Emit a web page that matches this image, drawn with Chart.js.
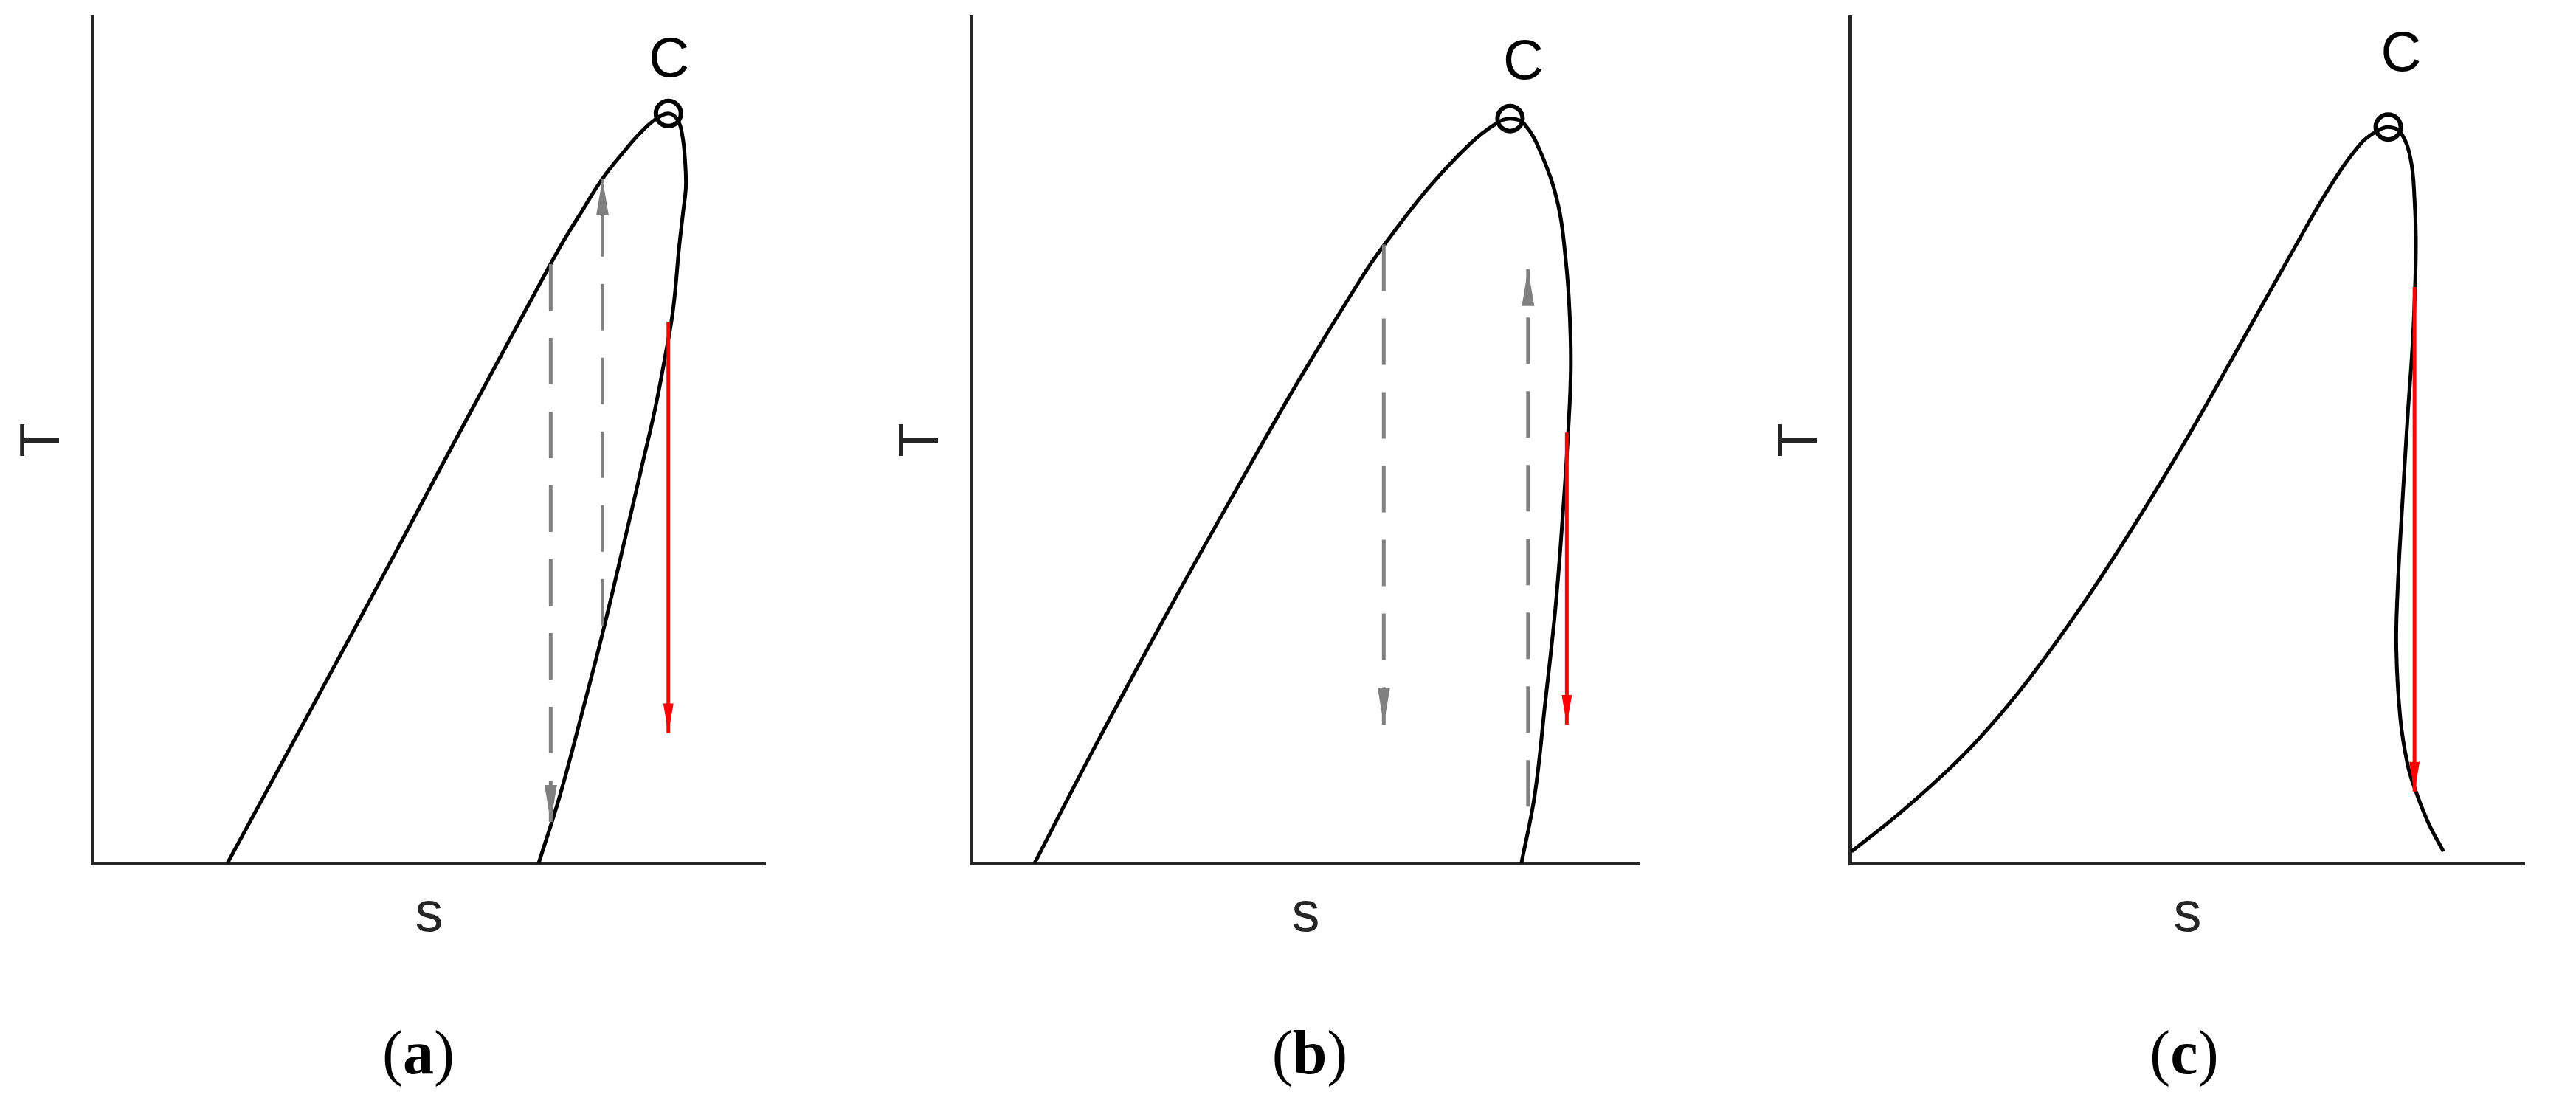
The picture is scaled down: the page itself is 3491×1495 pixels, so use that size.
<!DOCTYPE html>
<html>
<head>
<meta charset="utf-8">
<title>T-s diagrams</title>
<script src="https://cdn.jsdelivr.net/npm/chart.js@4.4.1/dist/chart.umd.min.js"></script>
<style>
  html, body { margin: 0; padding: 0; background: #fff; }
  body { position: relative; width: 3491px; height: 1495px; overflow: hidden; }
  canvas { position: absolute; top: 0; }
  .cap {
    position: absolute; top: 1377px; width: 200px; text-align: center;
    font: 84px/100px "Liberation Serif", "Times New Roman", serif; color: #000;
  }
</style>
</head>
<body>
<canvas id="ca" width="1190" height="1320" style="left:0px"></canvas>
<canvas id="cb" width="1190" height="1320" style="left:1191px"></canvas>
<canvas id="cc" width="1109" height="1320" style="left:2382px"></canvas>
<div class="cap" style="left:467px">(<b>a</b>)</div>
<div class="cap" style="left:1675px">(<b>b</b>)</div>
<div class="cap" style="left:2860px">(<b>c</b>)</div>
<script>
// saturation dome (s and T in % of the axis)
const domeA_s = [20.0, 31.7, 44.8, 51.7, 60.1, 64.8, 69.4, 72.7, 75.8, 79.1, 81.3, 83.5, 85.6,
                 87.0, 87.7, 88.1, 88.2, 87.8, 87.2, 86.3, 85.1, 83.6, 81.8, 79.4, 76.0, 73.0, 69.5, 66.3];
const domeA_T = [0, 17.1, 36.4, 46.7, 59.1, 66.0, 72.7, 77.0, 80.9, 84.2, 86.2, 87.8, 88.6,
                 87.8, 85.9, 82.8, 79.9, 77.0, 72.8, 65.4, 59.8, 53.6, 47.4, 39.2, 27.8, 18.5, 8.1, 0];

const domeB_s = [9.4, 18.8, 29.7, 40.5, 49.0, 58.3, 61.8, 68.4, 74.6, 78.5, 80.6, 82.7, 85.4, 87.8, 88.9, 89.5, 89.7, 89.3, 88.5, 87.4, 85.8, 84.3, 82.3];
const domeB_T = [0, 14.3, 30.2, 45.4, 57.1, 69.1, 73.1, 79.8, 85.0, 87.4, 88.0, 87.4, 83.6, 77.8, 71.6, 65.4, 58.5, 50.9, 41.2, 30.2, 18.5, 8.1, 0];

const domeC_s = [0.15, 7.4, 15.1, 20.5, 26.6, 34.3, 42.0, 49.7, 57.4, 65.1, 71.2, 75.8, 78.1, 79.8,
                 81.6, 83.1, 83.7, 83.9, 83.5, 82.7, 81.8, 81.2, 81.0, 81.6, 82.7, 83.9, 85.8, 88.0];
const domeC_T = [1.4, 6.0, 11.5, 16.0, 21.9, 30.4, 39.8, 49.9, 60.7, 71.6, 80.0, 85.1, 86.5, 87.0,
                 86.4, 83.3, 78.5, 72.3, 62.6, 53.0, 41.2, 32.3, 25.4, 17.1, 11.6, 8.5, 4.7, 1.4];

// critical point C: [s, T]
const critA = [85.6, 88.6];
const critB = [80.6, 88.0];
const critC = [79.8, 87.0];
// where the letter C sits: [s, T]
const labelA = [85.7, 94.8];
const labelB = [82.6, 94.5];
const labelC = [81.7, 95.5];

// vertical process arrows: [s, T start, T end]
const grayA = [[68.1, 70.8, 4.9], [75.8, 28.1, 80.9]];
const redA = [85.6, 64.0, 15.4];
const grayB = [[61.7, 73.1, 16.4], [83.3, 6.7, 70.2]];
const redB = [89.1, 50.9, 16.4];
const grayC = [];
const redC = [83.7, 68.1, 8.5];

const FONT = '"Liberation Sans", Arial, sans-serif';
const AXIS = '#262626';

const arrowHeads = {
  id: 'arrowHeads',
  afterDatasetsDraw(chart) {
    const ctx = chart.ctx;
    chart.data.datasets.forEach((ds, i) => {
      if (!ds.head) return;
      const pts = chart.getDatasetMeta(i).data;
      const tip = pts[pts.length - 1], prev = pts[pts.length - 2];
      const dir = Math.sign(tip.y - prev.y);
      const len = ds.head[0], w = ds.head[1];
      ctx.save();
      ctx.fillStyle = ds.borderColor;
      ctx.beginPath();
      ctx.moveTo(tip.x, tip.y);
      ctx.lineTo(tip.x - w / 2, tip.y - dir * len);
      ctx.lineTo(tip.x + w / 2, tip.y - dir * len);
      ctx.closePath();
      ctx.fill();
      ctx.restore();
    });
  }
};

const critLabel = {
  id: 'critLabel',
  afterDraw(chart, args, opts) {
    const ctx = chart.ctx;
    const x = chart.scales.x.getPixelForValue(opts.at[0]);
    const y = chart.scales.y.getPixelForValue(opts.at[1]);
    ctx.save();
    ctx.font = '76px ' + FONT;
    ctx.fillStyle = '#000';
    ctx.textAlign = 'center';
    ctx.textBaseline = 'middle';
    ctx.fillText(opts.text, x, y);
    ctx.restore();
  }
};

function pts(sArr, tArr) {
  return sArr.map((s, i) => ({x: s, y: tArr[i]}));
}

function arrow(a, color, dashed, head) {
  return {
    data: [{x: a[0], y: a[1]}, {x: a[0], y: a[2]}],
    showLine: true,
    borderColor: color,
    borderWidth: 5,
    borderDash: dashed ? [63, 37] : [],
    borderCapStyle: 'butt',
    pointRadius: 0,
    head: head
  };
}

function makePanel(id, padRight, dome_s, dome_T, crit, label, grays, red) {
  const datasets = [
    {
      data: [{x: crit[0], y: crit[1]}],
      pointStyle: 'circle',
      pointRadius: 17,
      pointBorderWidth: 6,
      pointBorderColor: '#000',
      pointBackgroundColor: 'rgba(0,0,0,0)',
      showLine: false
    },
    arrow(red, '#ff0000', false, [40, 14])
  ];
  grays.forEach(g => datasets.push(arrow(g, '#808080', true, [50, 17])));
  datasets.push({
    data: pts(dome_s, dome_T),
    showLine: true,
    borderColor: '#000',
    borderWidth: 5,
    tension: 0.4,
    pointRadius: 0
  });

  return new Chart(document.getElementById(id), {
    type: 'scatter',
    data: {datasets: datasets},
    options: {
      responsive: false,
      animation: false,
      devicePixelRatio: 1,
      layout: {padding: {left: 0, right: padRight, top: 14, bottom: 0}},
      plugins: {
        legend: {display: false},
        tooltip: {enabled: false},
        critLabel: {at: label, text: 'C'}
      },
      scales: {
        x: {
          type: 'linear', min: 0, max: 100,
          grid: {display: false, drawTicks: false},
          border: {display: true, color: AXIS, width: 5},
          ticks: {display: false},
          title: {display: true, text: 's', color: AXIS,
                  font: {size: 76, family: FONT}, padding: {top: 25.2, bottom: 33.4}}
        },
        y: {
          type: 'linear', min: 0, max: 100,
          grid: {display: false, drawTicks: false},
          border: {display: true, color: AXIS, width: 5},
          ticks: {display: false},
          title: {display: true, text: 'T', color: AXIS,
                  font: {size: 76, family: FONT}, padding: {top: 13.9, bottom: 20.7}}
        }
      }
    },
    plugins: [arrowHeads, critLabel]
  });
}

makePanel('ca', 153, domeA_s, domeA_T, critA, labelA, grayA, redA);
makePanel('cb', 159, domeB_s, domeB_T, critB, labelB, grayB, redB);
makePanel('cc', 70, domeC_s, domeC_T, critC, labelC, grayC, redC);
</script>
</body>
</html>
